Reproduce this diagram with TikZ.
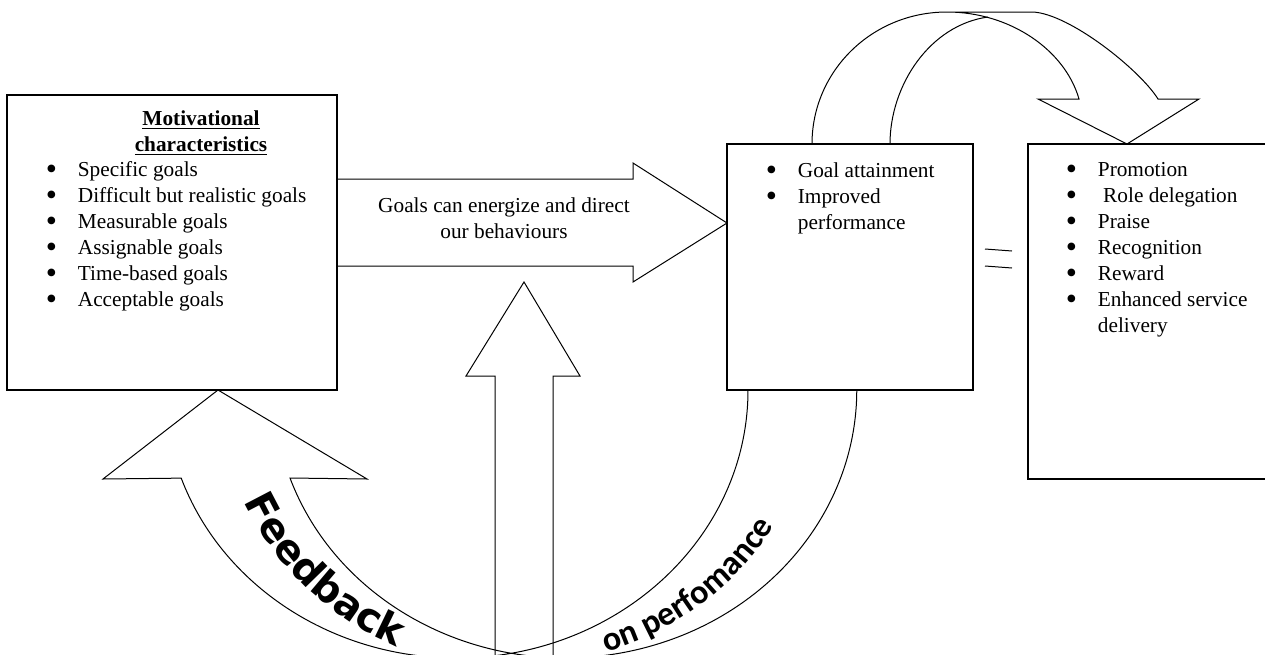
\documentclass[tikz,border=0pt]{standalone}
\usepackage{fontspec}
\usepackage{graphicx}
\setmainfont{Liberation Serif}
\newfontfamily\feedfont{DejaVu Sans}
\newfontfamily\perffont{Carlito}
\usetikzlibrary{decorations.text}
\newcommand{\listdot}{\hspace{-0.8pt}\raisebox{-1.8pt}{\scalebox{1.5}{\textbullet}}}

\begin{document}
\begin{tikzpicture}[
    x=0.5pt, y=-0.5pt,
    box/.style={
        rectangle,
        draw,
        line width=0.7pt,
        inner sep=0pt,
        outer sep=0pt,
    },
    listtext/.style={
        font=\fontsize{10.65}{13}\selectfont,
        inner sep=0pt,
    },
    blockarrow/.style={
        draw,
        line width=0.5pt,
        line join=miter,
    },
]
\useasboundingbox (0,0) rectangle (1265,654);
\clip (0,0) rectangle (1265,654);

% === Boxes ===
\node[box, minimum width=165pt, minimum height=147.5pt] (motiv) at (172,242.5) {};
\node[box, minimum width=123pt, minimum height=123pt] (attain) at (850,267) {};
\node[box, minimum width=121pt, minimum height=167.5pt] (reward) at (1149,311.5) {};

% === Box texts ===
\node[listtext, anchor=base, font=\fontsize{10.65}{13}\selectfont\bfseries] (motivtitle)
    at ([shift={(29,30)}]motiv.north) {%
    \begin{tabular}[t]{@{}c@{}}\underline{Motivational}\\\underline{characteristics}\end{tabular}};
\node[listtext, anchor=base west] (motivlist) at ([shift={(40,81)}]motiv.north west) {%
    \begin{tabular}[t]{@{}p{15.25pt}@{}l@{}}
    \listdot & Specific goals\\
    \listdot & Difficult but realistic goals\\
    \listdot & Measurable goals\\
    \listdot & Assignable goals\\
    \listdot & Time-based goals\\
    \listdot & Acceptable goals
    \end{tabular}};
\node[listtext, anchor=base west] (attainlist) at ([shift={(40,33)}]attain.north west) {%
    \begin{tabular}[t]{@{}p{15.25pt}@{}l@{}}
    \listdot & Goal attainment\\
    \listdot & Improved\\
             & performance
    \end{tabular}};
\node[listtext, anchor=base west] (rewardlist) at ([shift={(39,32)}]reward.north west) {%
    \begin{tabular}[t]{@{}p{15.25pt}@{}l@{}}
    \listdot & Promotion\\
    \listdot & \ Role delegation\\
    \listdot & Praise\\
    \listdot & Recognition\\
    \listdot & Reward\\
    \listdot & Enhanced service\\
             & delivery
    \end{tabular}};

% === Straight arrow ===
\draw[blockarrow] (motiv.east |- 0,179) -- (633,179) -- (633,163) -- (attain.west |- 0,223)
    -- (633,282) -- (633,266) -- (motiv.east |- 0,266);
\node[listtext, anchor=base] (energize) at (504,212) {%
    \begin{tabular}[t]{@{}c@{}}Goals can energize and direct\\our behaviours\end{tabular}};

% === Up arrow ===
\draw[blockarrow] (495,660) -- (495,376) -- (466,376) -- (524,282) -- (580,376)
    -- (553,376) -- (553,660);

% === Curved arrow over the top ===
\draw[blockarrow] (attain.north -| 812,0) .. controls (812,71) and (872,12) .. (947,12)
    -- (1033,12) .. controls (1070,14) and (1140,70) .. (1158,99) -- (1199,99)
    -- (reward.north -| 1127,0) -- (1038,99) -- (1079,99)
    .. controls (1065,50) and (1010,12) .. (947,12);
\draw[blockarrow] (attain.north -| 890,0) .. controls (890,85) and (930,25) .. (988,17);

% === Equals sign ===
\draw[line width=0.5pt] (985,249) -- (1012,251);
\draw[line width=0.5pt] (985,266) -- (1012,268);

% === Feedback arrow ===
\draw[blockarrow] (attain.south -| 748,0) arc[start angle=0, end angle=160.8, x radius=291.5, y radius=268]
    -- (103,479) -- (motiv.south -| 218,0) -- (367,479) -- (290,478)
    arc[start angle=160.8, end angle=0, x radius=291.5, y radius=268];

\path[decorate, decoration={text along path, text align=left,
    text={|\feedfont\fontsize{20}{24}\selectfont\bfseries|Feedback}}]
    (244,501) arc[start angle=157, end angle=90, x radius=308, y radius=284];
\path[decorate, decoration={text along path, text align=left,
    text={|\perffont\fontsize{17}{20}\selectfont\bfseries|on perfomance}}]
    (606,652) arc[start angle=72, end angle=0, x radius=300.5, y radius=277];

\end{tikzpicture}
\end{document}
